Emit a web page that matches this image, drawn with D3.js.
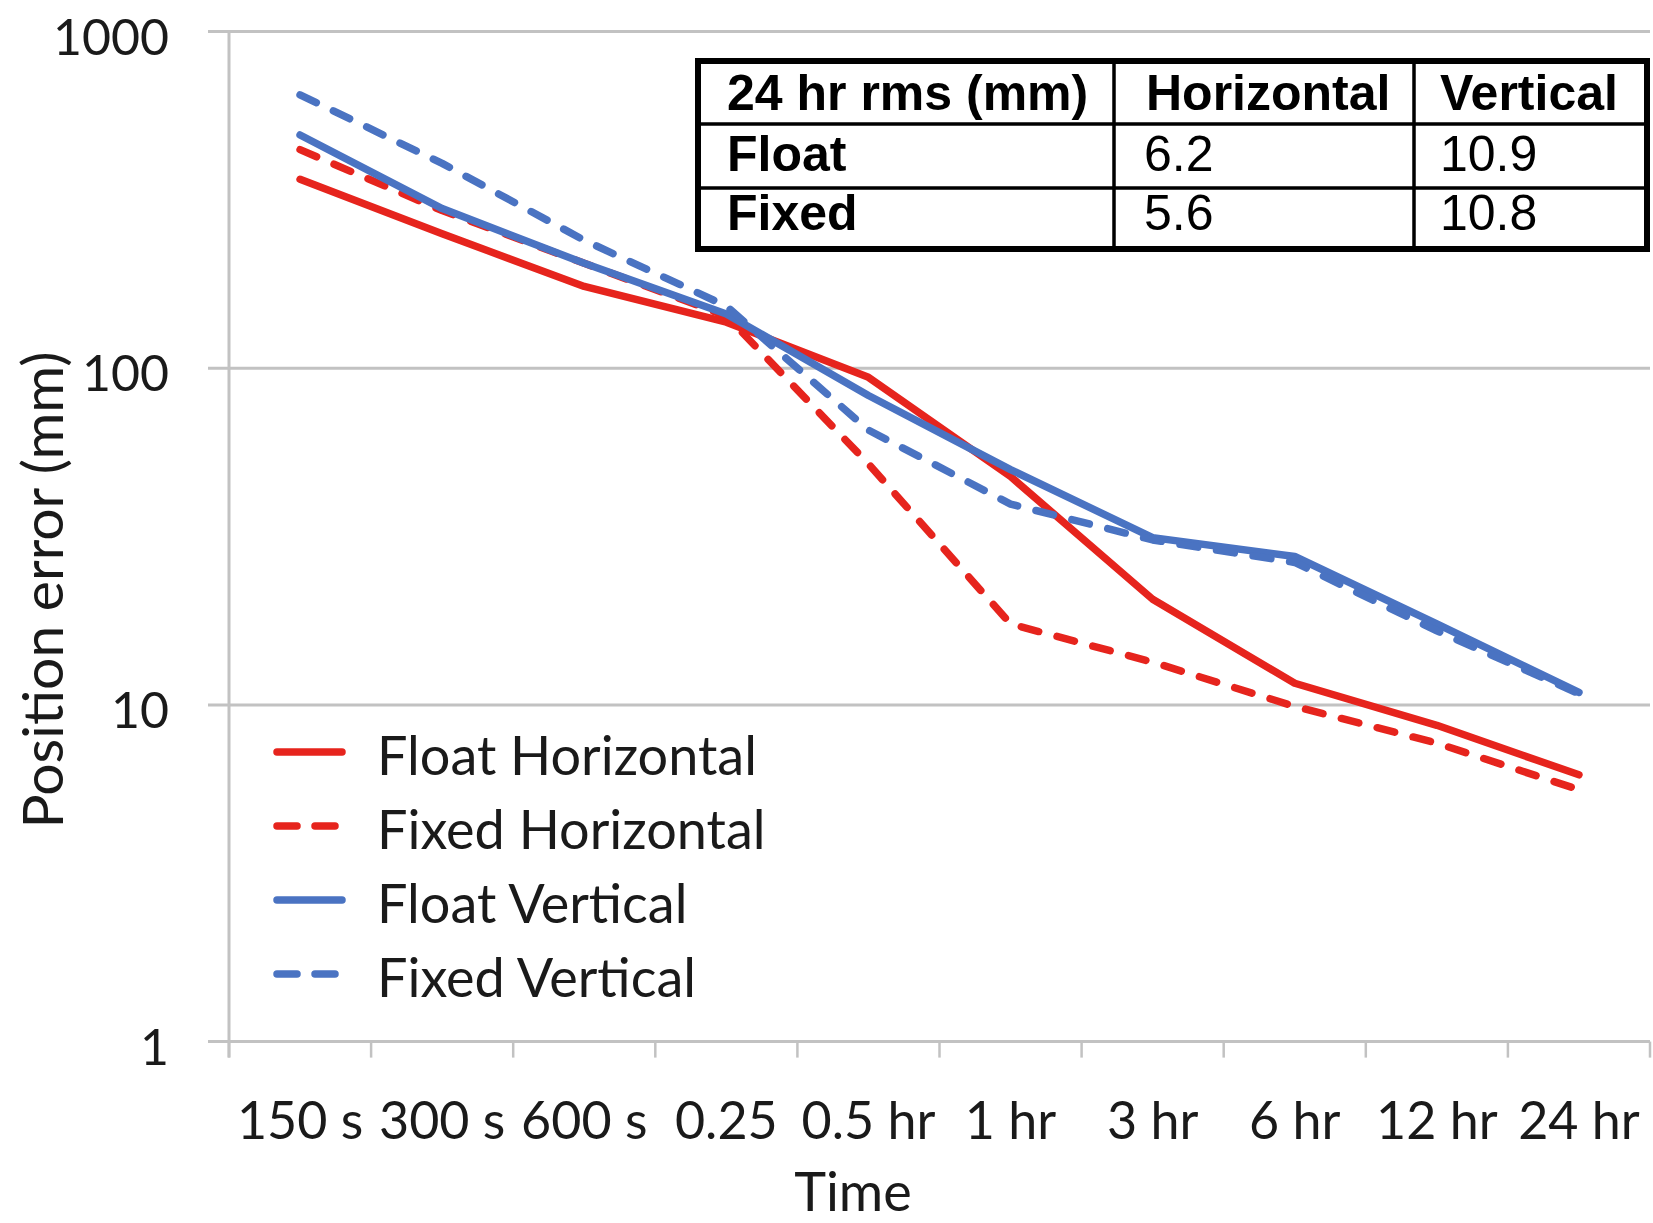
<!DOCTYPE html>
<html>
<head>
<meta charset="utf-8">
<script src="https://cdn.jsdelivr.net/npm/d3@7"></script>
<style>
  html, body { margin: 0; padding: 0; background: #ffffff; }
  svg { display: block; }
</style>
</head>
<body>
<svg id="chart" width="1653" height="1223"></svg>
<script>
// Averaging intervals along the x axis
const categories = ["150 s", "300 s", "600 s", "0.25", "0.5 hr", "1 hr", "3 hr", "6 hr", "12 hr", "24 hr"];

// Position error (mm) per interval
const floatHorizontal = [364, 251, 175, 137, 94, 47.7, 20.6, 11.6, 8.7, 6.2];
const fixedHorizontal = [446, 294, 205, 143, 52, 17.4, 13.4, 9.9, 7.7, 5.6];
const floatVertical   = [493, 298, 205, 145, 83, 50, 31.4, 27.6, 17.4, 10.9];
const fixedVertical   = [649, 406, 240, 153, 65.5, 39.5, 30.9, 26.5, 16.6, 10.8];

const seriesNames = ["Float Horizontal", "Fixed Horizontal", "Float Vertical", "Fixed Vertical"];

// Y axis ticks
const yTicks = [1, 10, 100, 1000];

// 24 hr RMS summary table
const tableHeader = ["24 hr rms (mm)", "Horizontal", "Vertical"];
const tableRowNames = ["Float", "Fixed"];
const rmsHorizontal = [6.2, 5.6];
const rmsVertical = [10.9, 10.8];

const svg = d3.select("#chart");
const W = 1653, H = 1223;

const plot = { left: 229, right: 1650, top: 31.6, bottom: 1041.6 };

const x = d3.scaleBand().domain(categories).range([plot.left, plot.right]).padding(0);
const y = d3.scaleLog().domain([1, 1000]).range([plot.bottom, plot.top]);

const gridColor = "#c2c2c2";
const red = "#e6241d";
const blue = "#4a73c2";
const labelFont = "Lato, 'Open Sans', sans-serif";
const lineWidth = 7.5;
const dashPattern = "18,19";

svg.append("rect").attr("width", W).attr("height", H).attr("fill", "#ffffff");

// Horizontal gridlines (with small tick stubs to the left of the axis)
svg.append("g")
  .selectAll("line")
  .data(yTicks)
  .join("line")
  .attr("x1", plot.left - 21)
  .attr("x2", plot.right)
  .attr("y1", d => y(d))
  .attr("y2", d => y(d))
  .attr("stroke", gridColor)
  .attr("stroke-width", 3);

// Vertical axis line
svg.append("line")
  .attr("x1", plot.left).attr("x2", plot.left)
  .attr("y1", plot.top).attr("y2", plot.bottom + 16)
  .attr("stroke", gridColor).attr("stroke-width", 3);

// X tick marks at category boundaries
const boundaries = categories.map(c => x(c)).concat([plot.right]);
svg.append("g")
  .selectAll("line")
  .data(boundaries)
  .join("line")
  .attr("x1", d => d).attr("x2", d => d)
  .attr("y1", plot.bottom).attr("y2", plot.bottom + 16)
  .attr("stroke", gridColor).attr("stroke-width", 2.5);

// Y tick labels
svg.append("g")
  .selectAll("text")
  .data(yTicks)
  .join("text")
  .attr("x", 169)
  .attr("y", d => y(d) + 4)
  .attr("text-anchor", "end")
  .attr("dominant-baseline", "central")
  .attr("font-family", labelFont)
  .attr("font-size", 50)
  .attr("fill", "#1a1a1a")
  .text(d => d);

// X tick labels
svg.append("g")
  .selectAll("text")
  .data(categories)
  .join("text")
  .attr("x", d => x(d) + x.bandwidth() / 2)
  .attr("y", 1139)
  .attr("text-anchor", "middle")
  .attr("font-family", labelFont)
  .attr("font-size", 52)
  .attr("fill", "#1a1a1a")
  .text(d => d);

// Axis titles
svg.append("text")
  .attr("x", 853).attr("y", 1211)
  .attr("text-anchor", "middle")
  .attr("font-family", labelFont)
  .attr("font-size", 54)
  .attr("fill", "#1a1a1a")
  .text("Time");

svg.append("text")
  .attr("transform", "translate(63,590) rotate(-90)")
  .attr("text-anchor", "middle")
  .attr("font-family", labelFont)
  .attr("font-size", 57)
  .attr("fill", "#1a1a1a")
  .text("Position error (mm)");

// Series lines
const series = [
  { name: seriesNames[0], values: floatHorizontal, color: red,  dash: null },
  { name: seriesNames[1], values: fixedHorizontal, color: red,  dash: dashPattern },
  { name: seriesNames[2], values: floatVertical,   color: blue, dash: null },
  { name: seriesNames[3], values: fixedVertical,   color: blue, dash: dashPattern }
];

const line = d3.line()
  .x((d, i) => x(categories[i]) + x.bandwidth() / 2)
  .y(d => y(d));

svg.append("g")
  .selectAll("path")
  .data(series)
  .join("path")
  .attr("d", d => line(d.values))
  .attr("fill", "none")
  .attr("stroke", d => d.color)
  .attr("stroke-width", lineWidth)
  .attr("stroke-linejoin", "round")
  .attr("stroke-linecap", "round")
  .attr("stroke-dasharray", d => d.dash);

// Legend
const legendLineY = [752, 826, 900, 974];
const legend = svg.append("g");
legend.selectAll("line")
  .data(series)
  .join("line")
  .attr("x1", 277).attr("x2", 342)
  .attr("y1", (d, i) => legendLineY[i])
  .attr("y2", (d, i) => legendLineY[i])
  .attr("stroke", d => d.color)
  .attr("stroke-width", lineWidth)
  .attr("stroke-linecap", "round")
  .attr("stroke-dasharray", d => d.dash ? "20,18" : null);
legend.selectAll("text")
  .data(series)
  .join("text")
  .attr("x", 377)
  .attr("y", (d, i) => legendLineY[i] + 23)
  .attr("font-family", labelFont)
  .attr("font-size", 54)
  .attr("fill", "#1a1a1a")
  .text(d => d.name);

// Summary table
const tbl = { left: 698, right: 1647, top: 61, bottom: 249 };
const colX = [tbl.left, 1114, 1414, tbl.right];
const rowY = [tbl.top, 124, 188, tbl.bottom];
const tg = svg.append("g");

tg.append("rect")
  .attr("x", tbl.left).attr("y", tbl.top)
  .attr("width", tbl.right - tbl.left).attr("height", tbl.bottom - tbl.top)
  .attr("fill", "#ffffff").attr("stroke", "#000").attr("stroke-width", 6);

tg.selectAll("line.col")
  .data(colX.slice(1, 3))
  .join("line")
  .attr("class", "col")
  .attr("x1", d => d).attr("x2", d => d)
  .attr("y1", tbl.top).attr("y2", tbl.bottom)
  .attr("stroke", "#000").attr("stroke-width", 3.5);

tg.selectAll("line.row")
  .data(rowY.slice(1, 3))
  .join("line")
  .attr("class", "row")
  .attr("x1", tbl.left).attr("x2", tbl.right)
  .attr("y1", d => d).attr("y2", d => d)
  .attr("stroke", "#000").attr("stroke-width", 3.5);

const tableFont = "'Liberation Sans', Arial, sans-serif";
const textX = [727, 1144, 1440];
const baseY = [110, 171, 230];

tg.selectAll("text.head")
  .data(tableHeader)
  .join("text")
  .attr("class", "head")
  .attr("x", (d, i) => textX[i] + (i === 1 ? 2 : 0))
  .attr("y", baseY[0])
  .attr("font-family", tableFont)
  .attr("font-weight", "bold")
  .attr("font-size", 50)
  .attr("fill", "#000")
  .text(d => d);

tableRowNames.forEach((name, r) => {
  tg.append("text")
    .attr("x", textX[0]).attr("y", baseY[r + 1])
    .attr("font-family", tableFont).attr("font-weight", "bold")
    .attr("font-size", 50).attr("fill", "#000")
    .text(name);
  tg.append("text")
    .attr("x", textX[1]).attr("y", baseY[r + 1])
    .attr("font-family", tableFont)
    .attr("font-size", 50).attr("fill", "#000")
    .text(rmsHorizontal[r]);
  tg.append("text")
    .attr("x", textX[2]).attr("y", baseY[r + 1])
    .attr("font-family", tableFont)
    .attr("font-size", 50).attr("fill", "#000")
    .text(rmsVertical[r]);
});
</script>
</body>
</html>
